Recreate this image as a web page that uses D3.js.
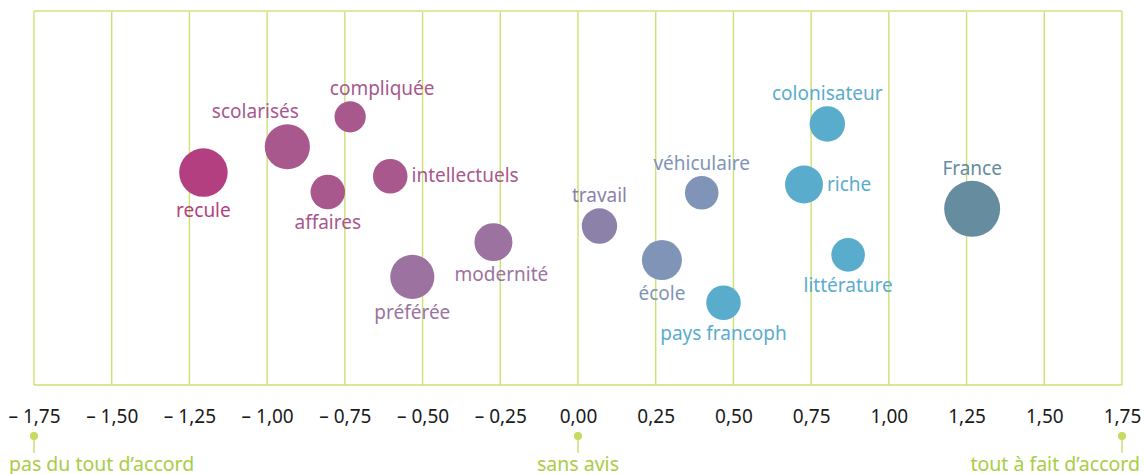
<!DOCTYPE html>
<html>
<head>
<meta charset="utf-8">
<script src="https://cdn.jsdelivr.net/npm/d3@7"></script>
<style>
  body { margin: 0; background: #fff; }
  svg { display: block; font-family: "Noto Sans", "Open Sans", sans-serif; }
</style>
</head>
<body>
<div id="chart"></div>
<script>
// Chart dimensions
const width = 1144;
const height = 474;
const marginTop = 11;
const marginRight = 22;
const marginBottom = 89;
const marginLeft = 34;

// Data
const words = ["recule", "scolarisés", "compliquée", "affaires", "intellectuels", "préférée", "modernité",
  "travail", "école", "véhiculaire", "pays francoph", "riche", "colonisateur", "littérature", "France"];
const scores = [-1.205, -0.935, -0.733, -0.805, -0.604, -0.533, -0.272,
  0.069, 0.27, 0.398, 0.468, 0.727, 0.802, 0.869, 1.268];
const spread = [5.68, 6.37, 7.17, 5.16, 5.58, 2.89, 3.82,
  4.25, 3.34, 5.14, 2.20, 5.36, 6.98, 3.48, 4.71];
const weights = [75, 65, 31, 38, 38, 62, 46, 40, 51, 36, 38, 46, 40, 36, 100];
const groups = ["g1", "g2", "g2", "g2", "g2", "g3", "g3", "g4", "g5", "g5", "g6", "g6", "g6", "g6", "g7"];
const placement = ["below", "above-left", "above-right", "below", "right", "below", "below-right",
  "above", "below", "above", "below", "right", "above", "below", "above"];

const tickValues = [-1.75, -1.5, -1.25, -1, -0.75, -0.5, -0.25, 0, 0.25, 0.5, 0.75, 1, 1.25, 1.5, 1.75];
const scaleNotes = [
  {value: -1.75, label: "pas du tout d\u2019accord"},
  {value: 0, label: "sans avis"},
  {value: 1.75, label: "tout à fait d\u2019accord"}
];

const data = words.map((w, i) => ({
  word: w, score: scores[i], spread: spread[i], weight: weights[i], group: groups[i], place: placement[i]
}));

const color = d3.scaleOrdinal()
  .domain(["g1", "g2", "g3", "g4", "g5", "g6", "g7"])
  .range(["#b33f80", "#a8588c", "#9c73a0", "#8c82a9", "#7f94b6", "#5aaccd", "#668c9f"]);

const x = d3.scaleLinear()
  .domain([-1.75, 1.75])
  .range([marginLeft, width - marginRight]);

const y = d3.scaleLinear()
  .domain([0, 10])
  .range([height - marginBottom, marginTop]);

const r = d3.scaleSqrt()
  .domain([0, 100])
  .range([0, 28]);

const svg = d3.select("#chart")
  .append("svg")
  .attr("width", width)
  .attr("height", height)
  .attr("viewBox", [0, 0, width, height]);

const gridColor = "#cde170";

// Grid
svg.append("g")
  .selectAll("line")
  .data(tickValues)
  .join("line")
  .attr("x1", d => x(d))
  .attr("x2", d => x(d))
  .attr("y1", marginTop)
  .attr("y2", height - marginBottom)
  .attr("stroke", gridColor)
  .attr("stroke-width", 1.4);

svg.append("line")
  .attr("x1", marginLeft).attr("x2", width - marginRight)
  .attr("y1", marginTop).attr("y2", marginTop)
  .attr("stroke", "#dde9a0").attr("stroke-width", 2);

svg.append("line")
  .attr("x1", marginLeft).attr("x2", width - marginRight)
  .attr("y1", height - marginBottom).attr("y2", height - marginBottom)
  .attr("stroke", gridColor).attr("stroke-width", 1.4);

// Axis tick labels
const xAxis = svg.append("g")
  .attr("transform", `translate(0,${height - marginBottom})`)
  .call(d3.axisBottom(x)
    .tickValues(tickValues)
    .tickSize(0)
    .tickPadding(25)
    .tickFormat(d => (d < 0 ? "\u2013 " : "") + d3.format(".2f")(Math.abs(d)).replace(".", ",")));

xAxis.select(".domain").remove();
xAxis.selectAll(".tick text")
  .attr("fill", "#1a1a1a")
  .style("font-size", "19px")
  .style("font-family", "\"Noto Sans\", sans-serif");

// Scale notes (green)
const notes = svg.append("g");
notes.selectAll("line")
  .data(scaleNotes)
  .join("line")
  .attr("x1", d => x(d.value)).attr("x2", d => x(d.value))
  .attr("y1", 436).attr("y2", 453)
  .attr("stroke", "#cde170").attr("stroke-width", 1.5);
notes.selectAll("circle")
  .data(scaleNotes)
  .join("circle")
  .attr("cx", d => x(d.value))
  .attr("cy", 436)
  .attr("r", 4)
  .attr("fill", "#c3dc5c");
notes.selectAll("text")
  .data(scaleNotes)
  .join("text")
  .attr("x", d => d.value < 0 ? x(d.value) - 25 : d.value > 0 ? x(d.value) + 18 : x(d.value))
  .attr("y", 471)
  .attr("text-anchor", d => d.value < 0 ? "start" : d.value > 0 ? "end" : "middle")
  .attr("fill", "#a9cd44")
  .style("font-size", "19.5px")
  .text(d => d.label);

// Bubbles
svg.append("g")
  .selectAll("circle")
  .data(data)
  .join("circle")
  .attr("cx", d => x(d.score))
  .attr("cy", d => y(d.spread))
  .attr("r", d => r(d.weight))
  .attr("fill", d => color(d.group));

// Labels
function labelPos(d) {
  const cx = x(d.score), cy = y(d.spread), rr = r(d.weight);
  if (d.place === "right") return [cx + rr + 4, cy + 6, "start"];
  if (d.place.startsWith("above")) {
    const dx = d.place === "above-left" ? -32 : d.place === "above-right" ? 32 : 0;
    return [cx + dx, cy - rr - 6, "middle"];
  }
  const dx = d.place === "below-right" ? 8 : 0;
  return [cx + dx, cy + rr + 20, "middle"];
}

svg.append("g")
  .selectAll("text")
  .data(data)
  .join("text")
  .attr("x", d => labelPos(d)[0])
  .attr("y", d => labelPos(d)[1])
  .attr("text-anchor", d => labelPos(d)[2])
  .attr("fill", d => color(d.group))
  .style("font-size", "19px")
  .text(d => d.word);
</script>
</body>
</html>
